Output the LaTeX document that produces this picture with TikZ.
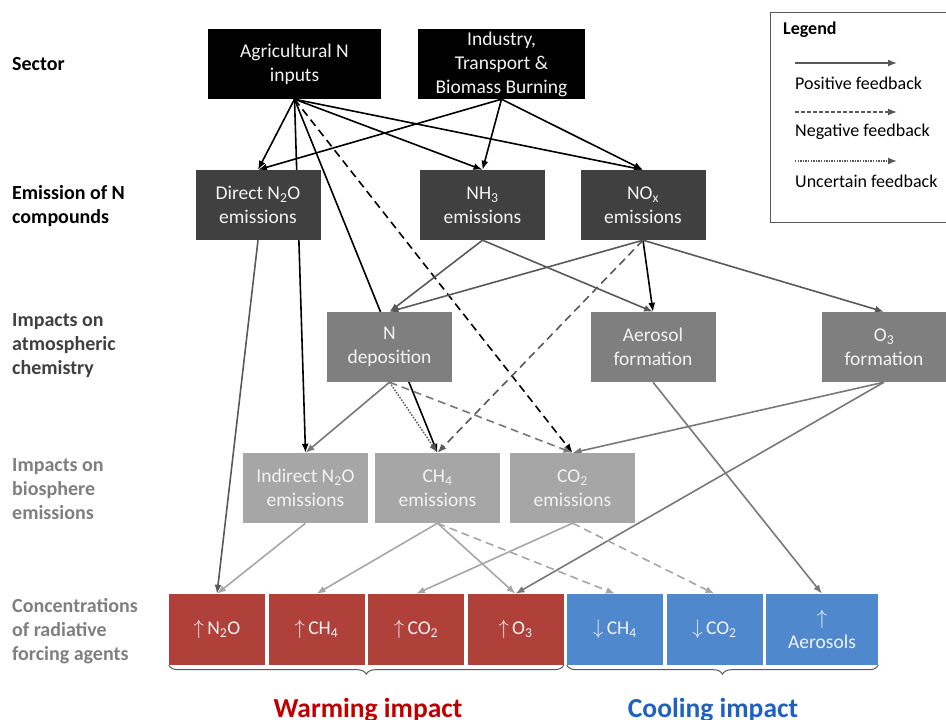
\documentclass[tikz,border=0pt]{standalone}
\usepackage{fontspec}
\setmainfont{Carlito}
\usetikzlibrary{arrows.meta,backgrounds,decorations.pathreplacing}

\definecolor{boxdark}{RGB}{64,64,64}
\definecolor{boxmid}{RGB}{127,127,127}
\definecolor{boxlight}{RGB}{166,166,166}
\definecolor{boxred}{RGB}{175,64,58}
\definecolor{boxblue}{RGB}{79,136,205}
\definecolor{linedark}{RGB}{89,89,89}
\definecolor{linemid}{RGB}{120,120,120}
\definecolor{linelight}{RGB}{166,166,166}
\definecolor{warmred}{RGB}{192,0,0}
\definecolor{coolblue}{RGB}{31,96,192}
\definecolor{boxtext}{RGB}{242,242,242}

\begin{document}
\begin{tikzpicture}
    [x=1pt,y=-1pt,>={Latex[length=9pt,width=7pt]},
      box/.style={minimum width=125pt,minimum height=70pt,inner sep=0pt,align=center,
        text=boxtext,font=\fontsize{19.5}{24}\selectfont},
      agent/.style={box,minimum width=96pt,minimum height=71pt},
      rowlabel/.style={anchor=west,align=left,inner sep=0pt,font=\fontsize{20}{24}\selectfont\bfseries},
      legtext/.style={anchor=west,inner sep=0pt,font=\fontsize{18}{22}\selectfont},
      posline/.style={->,line width=1.6pt},
      negline/.style={->,line width=1.6pt,dash pattern=on 8pt off 5pt},
      uncline/.style={->,line width=1.5pt,dash pattern=on 1.5pt off 1.5pt}]
      \useasboundingbox (0,0) rectangle (946,720);
      \clip (0,0) rectangle (946,720);

      % row labels
      \node[rowlabel] (lsector) at (12,64) {Sector};
      \node[rowlabel] (lemission) at (12,206) {Emission of N\\compounds};
      \node[rowlabel,text=boxdark] (latmos) at (12,346) {Impacts on\\atmospheric\\chemistry};
      \node[rowlabel,text=boxmid] (lbio) at (12,489) {Impacts on\\biosphere\\emissions};
      \node[rowlabel,text=boxmid] (lconc) at (12,631) {Concentrations\\of radiative\\forcing agents};

      % sector
      \node[box,fill=black,minimum width=173pt] (agri) at (294.5,64) {Agricultural N\\inputs};
      \node[box,fill=black,minimum width=167pt] (industry) at (501.5,64) {Industry,\\Transport \&\\Biomass Burning};

      % emission of N compounds
      \node[box,fill=boxdark] (directn2o) at (258,205) {Direct N\textsubscript{2}O\\emissions};
      \node[box,fill=boxdark] (nhthree) at (482.5,205) {NH\textsubscript{3}\\emissions};
      \node[box,fill=boxdark] (nox) at (643,205) {NO\textsubscript{x}\\emissions};

      % atmospheric chemistry
      \node[box,fill=boxmid] (ndep) at (389.5,347) {N\\deposition};
      \node[box,fill=boxmid] (aerosol) at (653,347) {Aerosol\\formation};
      \node[box,fill=boxmid] (othree) at (884,347) {O\textsubscript{3}\\formation};

      % biosphere emissions
      \node[box,fill=boxlight] (indirectn2o) at (305.5,488) {Indirect N\textsubscript{2}O\\emissions};
      \node[box,fill=boxlight] (chfour) at (437.5,488) {CH\textsubscript{4}\\emissions};
      \node[box,fill=boxlight] (cotwo) at (572.5,488) {CO\textsubscript{2}\\emissions};

      % radiative forcing agents
      \node[agent,fill=boxred] (upn2o) at (217,629.5) {$\uparrow$\,N\textsubscript{2}O};
      \node[agent,fill=boxred] (upch4) at (316.5,629.5) {$\uparrow$\,CH\textsubscript{4}};
      \node[agent,fill=boxred] (upco2) at (416,629.5) {$\uparrow$\,CO\textsubscript{2}};
      \node[agent,fill=boxred] (upo3) at (515.5,629.5) {$\uparrow$\,O\textsubscript{3}};
      \node[agent,fill=boxblue] (downch4) at (615,629.5) {$\downarrow$\,CH\textsubscript{4}};
      \node[agent,fill=boxblue] (downco2) at (714.5,629.5) {$\downarrow$\,CO\textsubscript{2}};
      \node[agent,fill=boxblue,minimum width=112pt] (upaero) at (822,629.5) {$\uparrow$\\Aerosols};

      \begin{scope}[on background layer]
      \foreach \from/\to in {
	  agri/directn2o,agri/nhthree,agri/nox,agri/indirectn2o,agri/chfour,
	  industry/directn2o,industry/nhthree,industry/nox,nox/aerosol}
	\draw[posline,black] (\from.south) -- (\to.north);
      \draw[negline,black] (agri.south) -- (cotwo.north);

      \foreach \from/\to in {
	  directn2o/upn2o,nhthree/ndep,nhthree/aerosol,nox/ndep,nox/othree}
	\draw[posline,linedark] (\from.south) -- (\to.north);
      \draw[negline,linedark] (nox.south) -- (chfour.north);

      \foreach \from/\to in {
	  ndep/indirectn2o,aerosol/upaero,othree/cotwo,othree/upo3}
	\draw[posline,linemid] (\from.south) -- (\to.north);
      \draw[uncline,linedark] (ndep.south) -- (chfour.north);
      \draw[negline,linemid] (ndep.south) -- (cotwo.north);

      \foreach \from/\to in {
	  indirectn2o/upn2o,chfour/upch4,chfour/upo3,cotwo/upco2}
	\draw[posline,linelight] (\from.south) -- (\to.north);
      \foreach \from/\to in {chfour/downch4,cotwo/downco2}
	\draw[negline,linelight] (\from.south) -- (\to.north);
      \end{scope}

      % braces
      \draw[decorate,decoration={brace,mirror,amplitude=9pt},line width=1pt,linedark]
        (upn2o.south west) -- (upo3.south east) coordinate[midway] (warmmid);
      \draw[decorate,decoration={brace,mirror,amplitude=9pt},line width=1pt,linedark]
        (downch4.south west) -- (upaero.south east) coordinate[midway] (coolmid);
      \node[font=\fontsize{27.5}{30}\selectfont\bfseries,text=warmred] (warm) at (368,710) {Warming impact};
      \node[font=\fontsize{27.5}{30}\selectfont\bfseries,text=coolblue] (cool) at (713,710) {Cooling impact};

      % legend
      \node[draw=linedark,line width=1pt,minimum width=190pt,minimum height=210pt,anchor=north west] (legend) at (770,12) {};
      \node[legtext,font=\fontsize{18}{22}\selectfont\bfseries] (legtitle) at (783,30) {Legend};
      \coordinate (p1) at (795,63);  \coordinate (p2) at (897,63);
      \coordinate (n1) at (795,112); \coordinate (n2) at (897,112);
      \coordinate (u1) at (795,161); \coordinate (u2) at (897,161);
      \draw[->,line width=1.3pt,linedark] (p1) -- (p2);
      \draw[->,line width=1.3pt,linedark,dash pattern=on 4pt off 2pt] (n1) -- (n2);
      \draw[->,line width=1.3pt,linedark,dash pattern=on 1.3pt off 1.3pt] (u1) -- (u2);
      \node[legtext] (ltpos) at (795,83) {Positive feedback};
      \node[legtext] (ltneg) at (795,132) {Negative feedback};
      \node[legtext] (ltunc) at (795,181) {Uncertain feedback};
\end{tikzpicture}
\end{document}
